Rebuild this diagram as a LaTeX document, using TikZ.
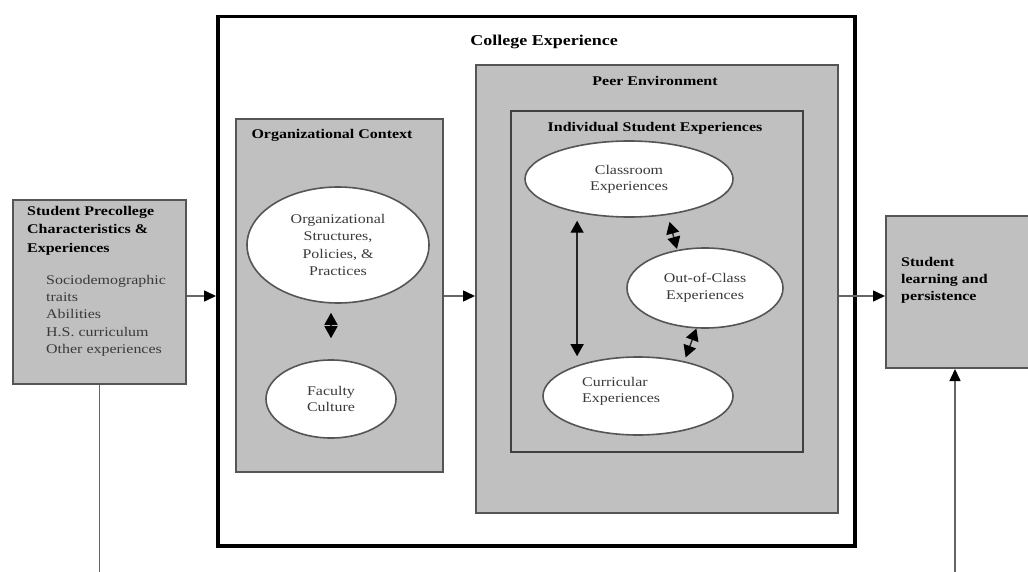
\documentclass[tikz,border=0pt]{standalone}
\usepackage{fontspec}
\setmainfont{Liberation Serif}[FakeStretch=1.2]
\usetikzlibrary{arrows.meta,shapes.geometric}
\definecolor{boxgray}{HTML}{C0C0C0}
\definecolor{edgegray}{HTML}{555555}
\definecolor{txtgray}{HTML}{3A3A3A}
\definecolor{linegray}{HTML}{666666}
\begin{document}
\begin{tikzpicture}[x=1pt,y=-1pt,
  graybox/.style={draw=edgegray, line width=2pt, fill=boxgray, inner sep=0pt, anchor=north west},
  oval/.style={ellipse, draw=edgegray, line width=1.6pt, fill=white, inner sep=0pt, align=center,
    font=\fontsize{13.3}{17}\selectfont, text=txtgray},
  ttl/.style={font=\fontsize{13.3}{18}\selectfont\bfseries, inner sep=0pt},
  conn/.style={draw=linegray, line width=1.5pt, -{Triangle[length=12pt,width=11pt,color=black]}},
  plainline/.style={draw=linegray, line width=1.5pt},
  dbl/.style={draw=black!85, line width=1.4pt,
    {Triangle[length=12pt,width=13pt,color=black]}-{Triangle[length=12pt,width=13pt,color=black]}},
]
\useasboundingbox (0,0) rectangle (1028,572);
\fill[white] (0,0) rectangle (1028,572);

% boxes
\node[draw=black, line width=3.5pt, minimum width=637pt, minimum height=529pt, inner sep=0pt, anchor=north west] (college) at (216,15) {};
\node[graybox, minimum width=173pt, minimum height=184pt] (pre) at (12,199) {};
\node[graybox, minimum width=207pt, minimum height=353pt] (org) at (235,118) {};
\node[graybox, minimum width=362pt, minimum height=448pt] (peer) at (475,64) {};
\node[graybox, draw=black!75, line width=2.4pt, minimum width=292pt, minimum height=341pt] (indiv) at (510,110) {};
\node[graybox, minimum width=160pt, minimum height=152pt] (learn) at (885,215) {};

% titles
\node[ttl, font=\fontsize{15}{18}\selectfont\bfseries] (collegettl) at (544,42) {College Experience};
\node[ttl] (orgttl) at (332,135) {Organizational Context};
\node[ttl] (peerttl) at (655,81) {Peer Environment};
\node[ttl] (indivttl) at (655,128) {Individual Student Experiences};

\node[anchor=north west, align=left, inner sep=0pt, font=\fontsize{13.3}{18.5}\selectfont\bfseries] (pretitle) at (27,206) {Student Precollege\\Characteristics \&\\Experiences};
\node[anchor=north west, align=left, inner sep=0pt, font=\fontsize{13.3}{17.2}\selectfont, text=txtgray] (preitems) at (46,275) {Sociodemographic\\traits\\Abilities\\H.S. curriculum\\Other experiences};
\node[anchor=north west, align=left, inner sep=0pt, font=\fontsize{13.3}{17}\selectfont\bfseries] (learnttl) at (901,257) {Student\\learning and\\persistence};

% ellipses
\node[oval, minimum width=182pt, minimum height=116pt, font=\fontsize{13.3}{17.5}\selectfont] (orgs) at (338,245) {Organizational\\Structures,\\Policies, \&\\Practices};
\node[oval, minimum width=130pt, minimum height=78pt, font=\fontsize{13.3}{16}\selectfont] (fac) at (331,399) {Faculty\\Culture};
\node[oval, minimum width=208pt, minimum height=76pt, font=\fontsize{13.3}{16}\selectfont] (class) at (629,179) {Classroom\\Experiences};
\node[oval, minimum width=156pt, minimum height=80pt] (outc) at (705,288) {Out-of-Class\\Experiences};
\node[oval, minimum width=190pt, minimum height=78pt] (curr) at (638,396) {};
\node[anchor=west, align=left, inner sep=0pt, font=\fontsize{13.3}{16}\selectfont, text=txtgray] (currtxt) at (582,391) {Curricular\\Experiences};

% connectors
\coordinate (row) at (0,296);
\coordinate (bl) at (98,580);
\coordinate (br) at (955,580);
\draw[conn] (pre.east |- row) -- (college.west |- row);
\draw[conn] (org.east |- row) -- (peer.west |- row);
\draw[conn] (peer.east |- row) -- (learn.west |- row);
\draw[plainline] (pre.south) -- (pre.south |- bl);
\draw[conn] (br) -- (br |- learn.south);

\draw[dbl, shorten <=9pt, shorten >=21pt] (fac.north |- orgs.south) -- (fac.north);
\draw[dbl, shorten <=8pt] (class.213) -- (class.213 |- curr.north);
\draw[dbl, shorten <=7pt, shorten >=1pt] (class.317) -- (outc.126);
\draw[dbl, shorten >=4pt] (outc.258) -- (curr.37);
\end{tikzpicture}
\end{document}
